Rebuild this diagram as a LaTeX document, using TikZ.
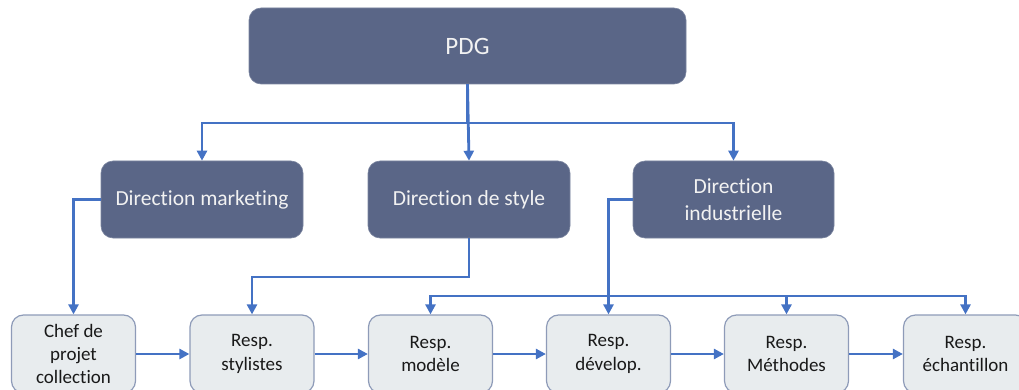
\documentclass[tikz,border=0pt]{standalone}
\usepackage{fontspec}
\setmainfont[Ligatures=NoCommon]{Carlito}
\usetikzlibrary{arrows.meta}
\definecolor{darkbox}{HTML}{5A6687}
\definecolor{lightbox}{HTML}{E8ECEE}
\definecolor{lightborder}{HTML}{8E9BB8}
\definecolor{linkblue}{HTML}{4472C4}
\tikzset{
  topbox/.style={rectangle, rounded corners=12pt, fill=darkbox, draw=darkbox!80!white, line width=0.6pt,
    text=white!95!black, align=center, inner sep=0pt, minimum height=77pt,
    font=\fontsize{21.5}{26.5}\selectfont},
  lowbox/.style={rectangle, rounded corners=12pt, fill=lightbox, draw=lightborder, line width=1.2pt,
    text=black!90, align=center, inner sep=0pt, minimum width=124pt, minimum height=78pt,
    font=\fontsize{19}{23.3}\selectfont},
  link/.style={draw=linkblue, line width=2.8pt, -{Triangle[length=10pt,width=10pt]}},
}
\begin{document}
\begin{tikzpicture}[x=1pt,y=-1pt]
\useasboundingbox (0,0) rectangle (1019,390);
\clip (0,0) rectangle (1019,390);
\node[topbox, minimum width=437pt, minimum height=76pt, font=\fontsize{25}{30}\selectfont] (pdg) at (467.5,46) {PDG};
\node[topbox, minimum width=202pt] (dm) at (202,199.5) {Direction marketing};
\node[topbox, minimum width=202pt] (ds) at (469,199.5) {Direction de style};
\node[topbox, minimum width=201pt] (di) at (733.5,199.5) {Direction\\industrielle};

\node[lowbox] (chef) at (73.5,354) {Chef de\\projet\\collection};
\node[lowbox] (sty) at (252,354) {Resp.\\stylistes};
\node[lowbox] (mod) at (430.5,354) {Resp.\\modèle};
\node[lowbox] (dev) at (608.5,354) {Resp.\\dévelop.};
\node[lowbox] (met) at (786.5,354) {Resp.\\Méthodes};
\node[lowbox] (ech) at (965.5,354) {Resp.\\échantillon};

\coordinate (bus1) at (468,123);
\coordinate (bus2) at (469,277);
\coordinate (bus3) at (608.5,296);

\draw[link] (pdg.south) -- (pdg.south |- bus1) -| (dm.north);
\draw[link] (pdg.south) -- (ds.north);
\draw[link] (pdg.south |- bus1) -| (di.north);

\draw[link] (dm.west) -| (chef.north);
\draw[link] (ds.south) -- (ds.south |- bus2) -| (sty.north);
\draw[link] (di.west) -| (dev.north);
\draw[link] (bus3) -| (mod.north);
\draw[link] (bus3) -| (met.north);
\draw[link] (bus3) -| (ech.north);

\draw[link] (chef.east) -- (sty.west);
\draw[link] (sty.east) -- (mod.west);
\draw[link] (mod.east) -- (dev.west);
\draw[link] (dev.east) -- (met.west);
\draw[link] (met.east) -- (ech.west);
\end{tikzpicture}
\end{document}
